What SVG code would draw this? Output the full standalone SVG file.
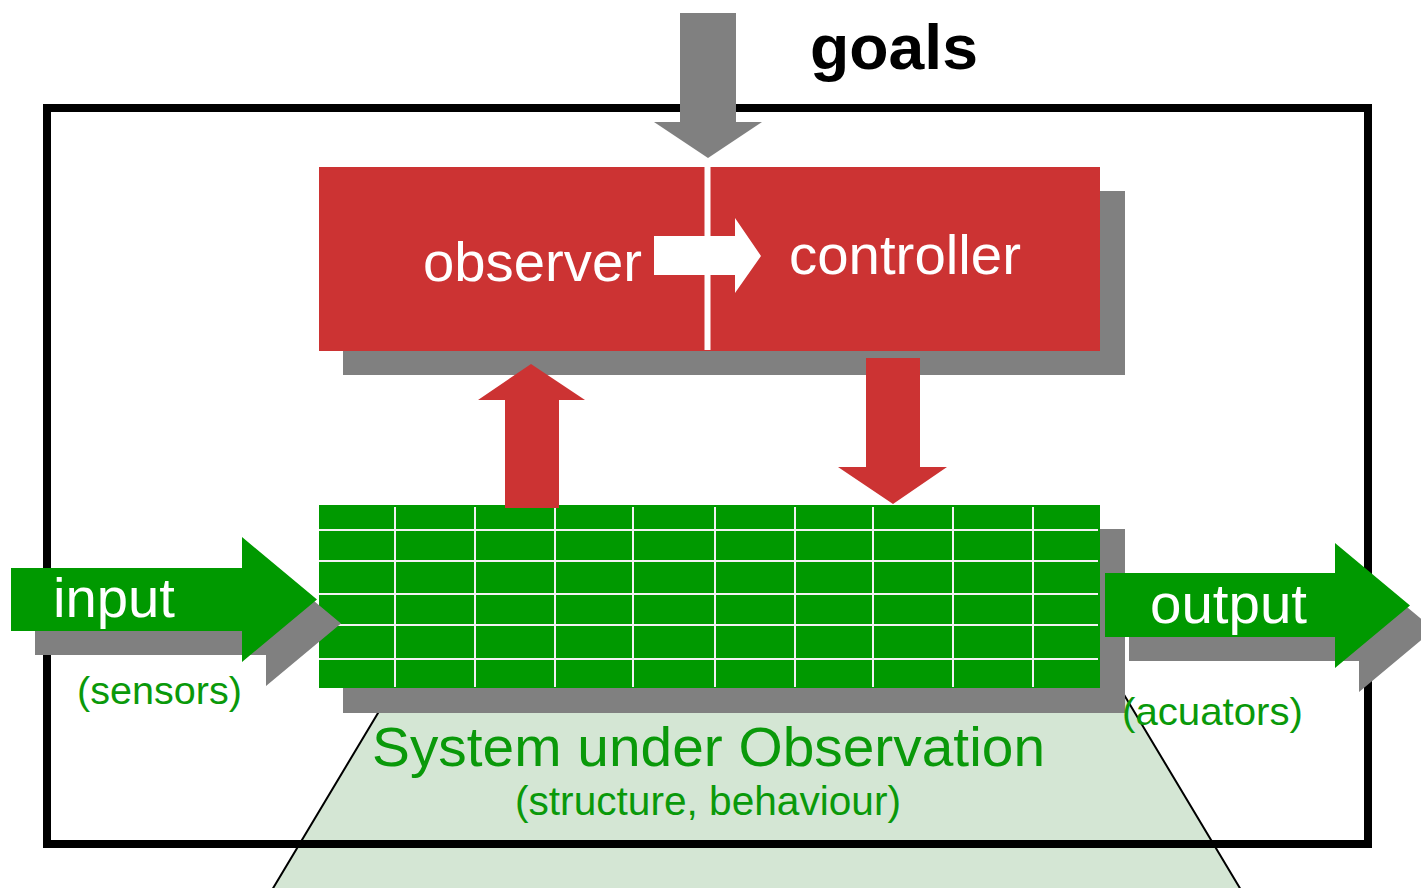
<svg xmlns="http://www.w3.org/2000/svg" width="1421" height="888" viewBox="0 0 1421 888">
  <style>
    .shadow { fill: #808080; }
    .red { fill: #cc3333; }
    .green { fill: #009900; }
    .grid line { stroke: #f2f2f2; stroke-width: 2; }
    text { font-family: "Liberation Sans", Arial, sans-serif; }
    .wt { fill: #ffffff; font-size: 56px; }
    .gt { fill: #0a990a; }
  </style>
  <defs>
    <polygon id="inArrow" points="11,568 242,568 242,537 317,599.5 242,662 242,631 11,631"/>
    <polygon id="outArrow" points="1105,573 1335,573 1335,543 1410,605.5 1335,668 1335,637 1105,637"/>
  </defs>

  <rect width="1421" height="888" fill="#ffffff"/>

  <!-- zoom cone below the system -->
  <g id="cone">
    <polygon points="390,693 1123,693 1250,905 263,905" fill="#d4e6d4" stroke="#000000" stroke-width="2"/>
  </g>

  <!-- system boundary -->
  <g id="boundary">
    <rect x="47" y="108" width="1321" height="736" fill="none" stroke="#000000" stroke-width="8"/>
  </g>

  <!-- observer / controller unit -->
  <g id="oc-unit">
    <rect class="shadow" x="343" y="191" width="782" height="184"/>
    <rect class="red" x="319" y="167" width="781" height="184"/>
    <rect x="704.5" y="167" width="6" height="183" fill="#ffffff"/>
    <polygon points="654,236 735,236 735,218 761,256 735,293 735,275 654,275" fill="#ffffff"/>
    <text class="wt" x="423" y="281" textLength="219" lengthAdjust="spacingAndGlyphs">observer</text>
    <text class="wt" x="789" y="274" textLength="232" lengthAdjust="spacingAndGlyphs">controller</text>
  </g>

  <!-- system under observation (grid) -->
  <g id="system">
    <rect class="shadow" x="343" y="529" width="782" height="184"/>
    <rect class="green" x="319" y="505" width="781" height="183"/>
    <g class="grid">
      <line x1="319" y1="530" x2="1098" y2="530"/>
      <line x1="319" y1="561" x2="1098" y2="561"/>
      <line x1="319" y1="594" x2="1098" y2="594"/>
      <line x1="319" y1="625" x2="1098" y2="625"/>
      <line x1="319" y1="659" x2="1098" y2="659"/>
      <line x1="395" y1="507" x2="395" y2="687"/>
      <line x1="475" y1="507" x2="475" y2="687"/>
      <line x1="555" y1="507" x2="555" y2="687"/>
      <line x1="633" y1="507" x2="633" y2="687"/>
      <line x1="715" y1="507" x2="715" y2="687"/>
      <line x1="795" y1="507" x2="795" y2="687"/>
      <line x1="873" y1="507" x2="873" y2="687"/>
      <line x1="953" y1="507" x2="953" y2="687"/>
      <line x1="1033" y1="507" x2="1033" y2="687"/>
    </g>
  </g>

  <!-- labels under the system -->
  <g id="system-labels">
    <text class="gt" x="372" y="766" font-size="55" textLength="673" lengthAdjust="spacingAndGlyphs">System under Observation</text>
    <text class="gt" x="515" y="815" font-size="40" textLength="386" lengthAdjust="spacingAndGlyphs">(structure, behaviour)</text>
    <text class="gt" x="77" y="704" font-size="39" textLength="165" lengthAdjust="spacingAndGlyphs">(sensors)</text>
    <text class="gt" x="1122" y="725" font-size="39" textLength="181" lengthAdjust="spacingAndGlyphs">(acuators)</text>
  </g>

  <!-- connectors -->
  <g id="connectors">
    <!-- goals into the controller -->
    <polygon class="shadow" points="680,13 736,13 736,122 762,122 708,158 654,122 680,122"/>
    <!-- system state up to the observer -->
    <polygon class="red" points="505,508 505,400 478,400 531,364 585,400 559,400 559,508"/>
    <!-- control action down to the system -->
    <polygon class="red" points="866,358 920,358 920,467 947,467 893,504 838,467 866,467"/>
    <!-- input -->
    <use href="#inArrow" class="shadow" transform="translate(24,24)"/>
    <use href="#inArrow" class="green"/>
    <!-- output -->
    <use href="#outArrow" class="shadow" transform="translate(24,24)"/>
    <use href="#outArrow" class="green"/>
  </g>

  <g id="arrow-labels">
    <text class="wt" x="53" y="617" textLength="122" lengthAdjust="spacingAndGlyphs">input</text>
    <text class="wt" x="1150" y="623" textLength="157" lengthAdjust="spacingAndGlyphs">output</text>
    <text x="810" y="69" font-weight="bold" font-size="63" fill="#000000" textLength="168" lengthAdjust="spacingAndGlyphs">goals</text>
  </g>
</svg>
